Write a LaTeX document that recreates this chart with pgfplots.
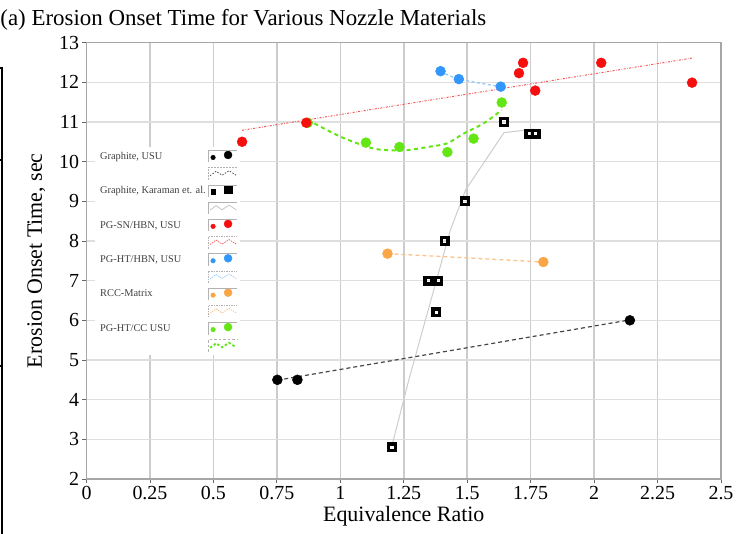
\documentclass[border=0pt]{standalone}
\usepackage{pgfplots}
\pgfplotsset{compat=1.18}
\usepackage{fontspec}
\setmainfont{Liberation Serif}

\definecolor{cred}{RGB}{245,15,15}
\definecolor{cblue}{RGB}{50,150,250}
\definecolor{corange}{RGB}{250,165,70}
\definecolor{cgreen}{RGB}{100,230,20}
\definecolor{lred}{RGB}{245,90,90}
\definecolor{lblue}{RGB}{150,200,250}
\definecolor{lorange}{RGB}{250,195,140}
\definecolor{lblack}{RGB}{70,70,70}
\definecolor{lgray}{RGB}{205,205,205}

\pgfplotsset{
  legmark/.style={legend image code/.code={
    \draw[##1, mark size=2.3bp] plot coordinates {(4bp,-1bp)};
    \draw[##1, mark size=4bp] plot coordinates {(19bp,1.5bp)};
    \draw[black!30, line width=0.6bp] (-1bp,-6bp) -- (-1bp,6bp) -- (28bp,6bp);}},
  legline/.style={legend image code/.code={
    \draw[##1, mark=none] (1bp,-2bp) -- (7bp,2.5bp) -- (13bp,-1.5bp) -- (20bp,3bp) -- (27bp,-1.5bp);
    \draw[black!30, line width=0.6bp] (-1bp,-6bp) -- (-1bp,6bp) -- (28bp,6bp);}},
}

\begin{document}
\begin{tikzpicture}
\begin{axis}[
  scale only axis, width=634.5bp, height=436.4bp,
  xmin=0, xmax=2.5, ymin=2, ymax=13,
  enlargelimits=false,
  xtick={0,0.25,0.5,0.75,1,1.25,1.5,1.75,2,2.25,2.5},
  xticklabels={0,0.25,0.5,0.75,1,1.25,1.5,1.75,2,2.25,2.5},
  ytick={2,3,4,5,6,7,8,9,10,11,12,13},
  grid=major,
  x grid style={line width=1.5bp, color=black!20},
  y grid style={line width=1.2bp, color=black!13},
  axis line style={black!35, line width=1.2bp},
  tick align=outside, xtick pos=bottom, ytick pos=left,
  major tick length=4bp,
  tick style={black!60, line width=0.8bp},
  ticklabel style={font=\fontsize{20}{22}\selectfont},
  /pgf/number format/assume math mode=true,
  xlabel={Equivalence Ratio},
  ylabel={Erosion Onset Time, sec},
  label style={font=\fontsize{22}{24}\selectfont},
  xlabel style={at={(axis description cs:0.5,0)}, anchor=base, yshift=-42bp},
  ylabel style={at={(axis description cs:-0.079,0.5)}, anchor=center},
  legend cell align=left,
  legend plot pos=right,
  legend style={at={(axis cs:0.0335,10.37)}, anchor=north west, draw=none, fill=white,
    font=\fontsize{10.4}{12}\selectfont, text=black!75, row sep=4.6bp, inner sep=3bp},
]
% lines
\addplot[forget plot, lgray, line width=1bp] coordinates {(1.204,2.85) (1.27,4.5) (1.434,8.28) (1.494,9.29) (1.645,10.73) (1.763,10.82)};
\addplot[forget plot, lblack, line width=1.2bp, dash pattern=on 4bp off 3bp] coordinates {(0.752,4.49) (2.141,6.01)};
\addplot[forget plot, lred, line width=1bp, dash pattern=on 2bp off 1.5bp on 0.6bp off 1.5bp] coordinates {(0.613,10.79) (2.386,12.61)};
\addplot[forget plot, lblue, line width=1.3bp, dash pattern=on 3bp off 2.5bp, smooth] coordinates {(1.395,12.28) (1.467,12.08) (1.632,11.89)};
\addplot[forget plot, lorange, line width=1.3bp, dash pattern=on 4bp off 3bp] coordinates {(1.186,7.68) (1.80,7.47)};
\addplot[forget plot, cgreen, line width=2bp, dash pattern=on 4bp off 3.5bp, smooth] coordinates {(0.872,11.05) (1.0,10.63) (1.118,10.35) (1.184,10.29) (1.263,10.29) (1.355,10.38) (1.421,10.46) (1.487,10.71) (1.566,10.97) (1.636,11.30)};
% markers
\addplot[forget plot, only marks, mark=*, black, mark size=5bp] coordinates {(0.752,4.5) (0.831,4.5) (2.141,6.0)};
\addplot[forget plot, only marks, mark=square, black, mark size=3.3bp, mark options={line width=3.4bp, fill=white, rounded corners=1.5bp}] coordinates {(1.204,2.8) (1.378,6.2) (1.346,7.0) (1.386,7.0) (1.412,8.0) (1.491,9.0) (1.645,11.0) (1.745,10.7) (1.770,10.7)};
\addplot[forget plot, only marks, mark=*, cgreen, mark size=5bp] coordinates {(0.872,10.98) (1.101,10.48) (1.233,10.37) (1.422,10.24) (1.525,10.58) (1.636,11.49)};
\addplot[forget plot, only marks, mark=*, cred, mark size=5bp] coordinates {(0.613,10.50) (0.866,10.98) (1.72,12.49) (1.704,12.23) (1.768,11.79) (2.028,12.49) (2.386,11.99)};
\addplot[forget plot, only marks, mark=*, cblue, mark size=5bp] coordinates {(1.395,12.28) (1.467,12.08) (1.632,11.89)};
\addplot[forget plot, only marks, mark=*, corange, mark size=5bp] coordinates {(1.186,7.68) (1.80,7.47)};
% legend
\addlegendimage{legmark, only marks, mark=*, black}
\addlegendentry{Graphite, USU}
\addlegendimage{legline, lblack, dash pattern=on 1.5bp off 1.5bp, line width=0.7bp}
\addlegendentry{}
\addlegendimage{legmark, only marks, mark=square*, black}
\addlegendentry{Graphite, Karaman et. al.}
\addlegendimage{legline, black!25, line width=0.7bp}
\addlegendentry{}
\addlegendimage{legmark, only marks, mark=*, cred}
\addlegendentry{PG-SN/HBN, USU}
\addlegendimage{legline, lred, dash pattern=on 1.5bp off 1bp, line width=0.7bp}
\addlegendentry{}
\addlegendimage{legmark, only marks, mark=*, cblue}
\addlegendentry{PG-HT/HBN, USU}
\addlegendimage{legline, lblue, dash pattern=on 1.5bp off 1bp, line width=0.7bp}
\addlegendentry{}
\addlegendimage{legmark, only marks, mark=*, corange}
\addlegendentry{RCC-Matrix}
\addlegendimage{legline, lorange, dash pattern=on 1.5bp off 1bp, line width=0.7bp}
\addlegendentry{}
\addlegendimage{legmark, only marks, mark=*, cgreen}
\addlegendentry{PG-HT/CC USU}
\addlegendimage{legline, cgreen, dash pattern=on 2.5bp off 2bp, line width=1.8bp}
\addlegendentry{}
\end{axis}
\node[anchor=base west, font=\fontsize{23}{25}\selectfont, inner sep=0pt] at (-86.3bp,453bp) {(a) Erosion Onset Time for Various Nozzle Materials};
\draw[black, line width=1.2bp] (-86.5bp,411bp) -- (-84.5bp,411bp) -- (-84.5bp,-60bp);
\draw[black, line width=1.2bp] (-86.5bp,319bp) -- (-84.5bp,319bp);
\draw[black, line width=1.2bp] (-86.5bp,113bp) -- (-84.5bp,113bp);
\pgfresetboundingbox
\path[use as bounding box] (-86.5bp,-55bp) rectangle (656.5bp,479bp);
\end{tikzpicture}
\end{document}
